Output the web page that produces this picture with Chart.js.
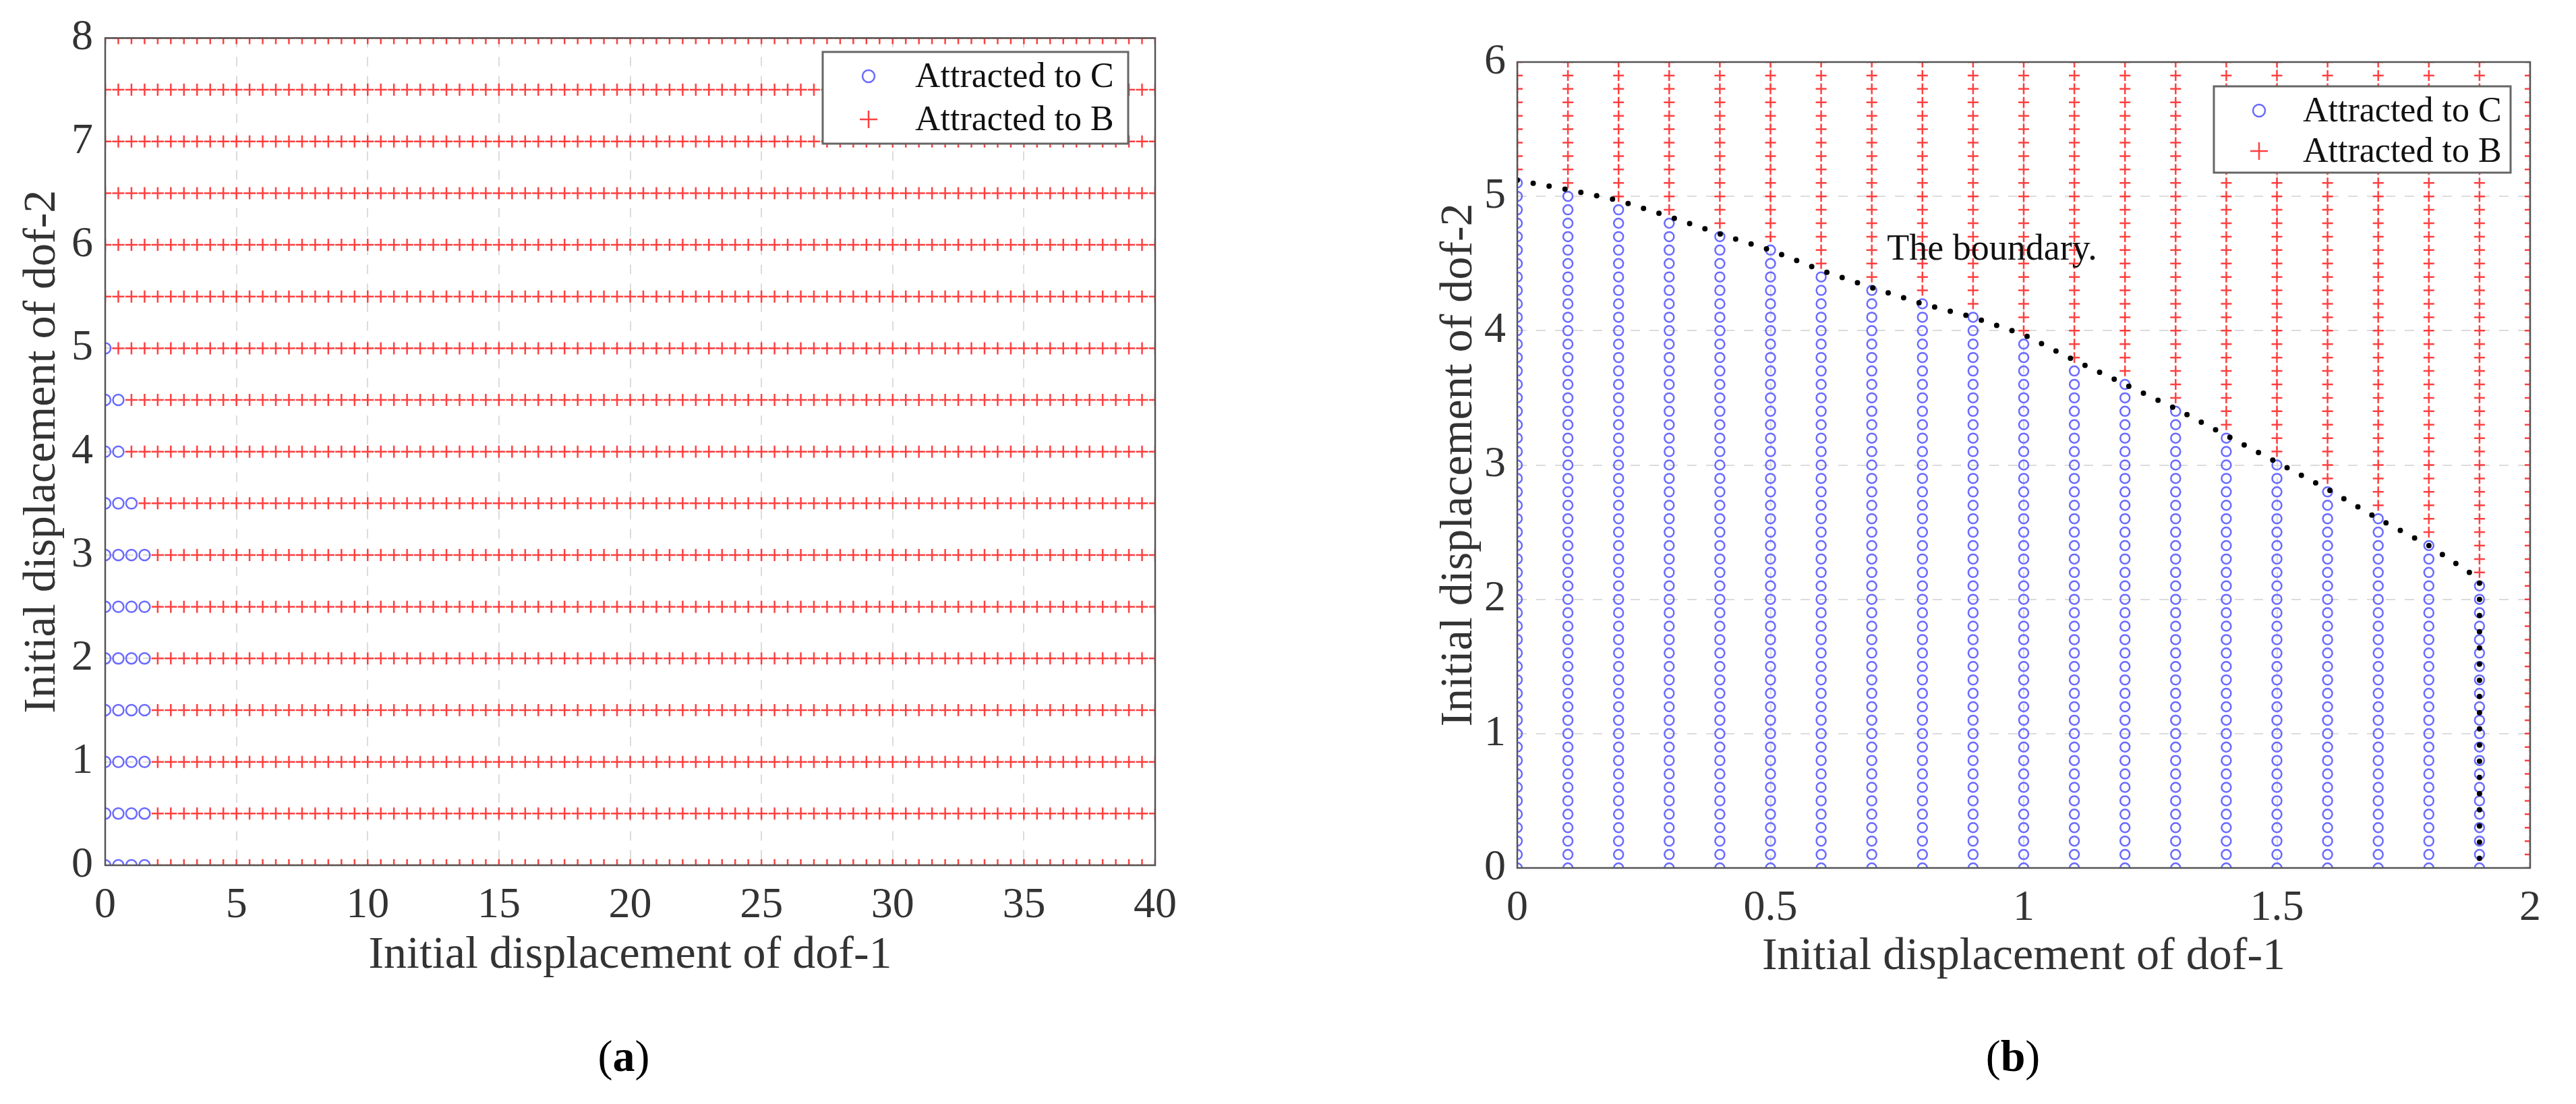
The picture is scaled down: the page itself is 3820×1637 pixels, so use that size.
<!DOCTYPE html>
<html><head><meta charset="utf-8">
<script src="https://cdn.jsdelivr.net/npm/chart.js@4"></script>
<style>
body{margin:0;background:#fff;width:3820px;height:1637px;position:relative;overflow:hidden;font-family:"Liberation Serif","Times New Roman",serif}
canvas{position:absolute;top:0}
.cap{position:absolute;font-family:"Liberation Serif","Times New Roman",serif;font-size:66px;transform:translate(-50%,-50%);color:#000}
</style></head><body>
<canvas id="ca" width="1800" height="1637" style="left:0"></canvas>
<canvas id="cb" width="1820" height="1637" style="left:2000px"></canvas>
<div class="cap" style="left:925px;top:1566px">(<b>a</b>)</div>
<div class="cap" style="left:2985px;top:1566px">(<b>b</b>)</div>
<script>
// ---- Panel (a) data ----
const aRowsY = [0,0.5,1,1.5,2,2.5,3,3.5,4,4.5,5,5.5,6,6.5,7,7.5,8];
const aCircleCount = [4,4,4,4,4,4,4,3,2,2,1,0,0,0,0,0,0]; // circles per row at x = 0,0.5,...
const aXStep = 0.5, aXMax = 40;
const aXTicks = [0,5,10,15,20,25,30,35,40];
const aYTicks = [0,1,2,3,4,5,6,7,8];
// ---- Panel (b) data ----
const bColsX = [0,0.1,0.2,0.3,0.4,0.5,0.6,0.7,0.8,0.9,1.0,1.1,1.2,1.3,1.4,1.5,1.6,1.7,1.8,1.9,2.0];
const bCircleTop = [5.1,5.0,4.9,4.8,4.7,4.6,4.4,4.3,4.2,4.1,3.9,3.7,3.6,3.4,3.2,3.0,2.8,2.6,2.4,2.1,null];
const bYStep = 0.1, bYMax = 6;
const boundaryX = [0,0.1,0.2,0.3,0.4,0.5,0.6,0.7,0.8,0.9,1.0,1.1,1.2,1.3,1.4,1.5,1.6,1.7,1.8,1.9,1.9];
const boundaryY = [5.12,5.05,4.97,4.85,4.72,4.6,4.45,4.32,4.2,4.1,3.97,3.78,3.6,3.42,3.22,3.02,2.82,2.6,2.4,2.15,0.05];
const bXTicks = [0,0.5,1,1.5,2];
const bYTicks = [0,1,2,3,4,5,6];
const labelC = "Attracted to C", labelB = "Attracted to B";
const boundaryText = "The boundary.", boundaryTextPos = [0.73, 4.6];

const r1 = v => Math.round(v*10)/10;
const aC=[], aB=[];
aRowsY.forEach((y,i)=>{
  for(let k=0;k*aXStep<=aXMax+1e-9;k++){
    const x=k*aXStep;
    (k<aCircleCount[i]?aC:aB).push({x,y});
  }
});
const bC=[], bB=[];
bColsX.forEach((x,i)=>{
  const top=bCircleTop[i];
  for(let k=0;k*bYStep<=bYMax+1e-9;k++){
    const y=r1(k*bYStep);
    (top!==null && y<=top+1e-9 ? bC : bB).push({x,y});
  }
});
const boundary = boundaryX.map((x,i)=>({x,y:boundaryY[i]}));

const BLUE='rgba(90,90,255,0.9)', RED='rgba(255,30,30,0.85)';
const SERIF='"Liberation Serif", "Times New Roman", serif';

function boxLegend(opts){
  return {id:'boxlegend',afterDraw(chart){
    const ctx=chart.ctx, a=chart.chartArea;
    ctx.save();
    ctx.strokeStyle='#555';ctx.lineWidth=2.5;
    ctx.strokeRect(a.left,a.top,a.right-a.left,a.bottom-a.top);
    const L=opts.legend;
    ctx.fillStyle='#fff';ctx.fillRect(L.x0,L.y0,L.x1-L.x0,L.y1-L.y0);
    ctx.strokeStyle='#666';ctx.lineWidth=3;ctx.strokeRect(L.x0,L.y0,L.x1-L.x0,L.y1-L.y0);
    ctx.strokeStyle=BLUE;ctx.lineWidth=2.5;
    ctx.beginPath();ctx.arc(L.sx,L.r1,opts.cr,0,Math.PI*2);ctx.stroke();
    ctx.strokeStyle=RED;ctx.beginPath();
    ctx.moveTo(L.sx-opts.pr,L.r2);ctx.lineTo(L.sx+opts.pr,L.r2);
    ctx.moveTo(L.sx,L.r2-opts.pr);ctx.lineTo(L.sx,L.r2+opts.pr);ctx.stroke();
    ctx.fillStyle='#111';ctx.font='52px '+SERIF;ctx.textBaseline='middle';
    ctx.fillText(labelC,L.tx,L.r1+2);ctx.fillText(labelB,L.tx,L.r2+2);
    if(opts.text){
      const xs=chart.scales.x, ys=chart.scales.y;
      ctx.font='54px '+SERIF;ctx.textBaseline='middle';
      ctx.fillText(boundaryText,xs.getPixelForValue(boundaryTextPos[0]),ys.getPixelForValue(boundaryTextPos[1]));
    }
    ctx.restore();
  }};
}

function makeChart(id,cfg){
  const tickFont={family:SERIF,size:64};
  const titleFont={family:SERIF,size:68};
  const grid={color:'#dcdcdc',lineWidth:2,drawTicks:false};
  const border={display:false,dash:[14,14]};
  const fmt=v=>String(v);
  return new Chart(document.getElementById(id),{
    type:'scatter',
    data:{datasets:cfg.datasets},
    options:{
      responsive:false,animation:false,devicePixelRatio:1,
      layout:{padding:{left:0,top:cfg.top,right:cfg.right,bottom:cfg.bottom}},
      plugins:{legend:{display:false},tooltip:{enabled:false}},
      scales:{
        x:{type:'linear',min:cfg.xmin,max:cfg.xmax,
          afterBuildTicks:s=>{s.ticks=cfg.xt.map(v=>({value:v}));},
          afterFit:s=>{s.height=cfg.xh;},
          ticks:{font:tickFont,color:'#333',padding:22,autoSkip:false,maxRotation:0,callback:fmt},
          grid,border,
          title:{display:true,text:'Initial displacement of dof-1',font:titleFont,color:'#333',padding:{top:0,bottom:0}}},
        y:{type:'linear',min:cfg.ymin,max:cfg.ymax,
          afterBuildTicks:s=>{s.ticks=cfg.yt.map(v=>({value:v}));},
          afterFit:s=>{s.width=cfg.yw;},
          ticks:{font:tickFont,color:'#333',padding:cfg.ytp,autoSkip:false,callback:fmt},
          grid,border,
          title:{display:true,text:'Initial displacement of dof-2',font:titleFont,color:'#333',padding:{top:cfg.ytitle,bottom:0}}}
      }
    },
    plugins:[boxLegend(cfg.legend)]
  });
}

makeChart('ca',{
  datasets:[
    {data:aB,pointStyle:'cross',pointRadius:9,borderColor:RED,borderWidth:2.5,backgroundColor:RED},
    {data:aC,pointStyle:'circle',pointRadius:8,borderColor:BLUE,borderWidth:2.5,backgroundColor:'rgba(0,0,0,0)'}
  ],
  xmin:0,xmax:40,ymin:0,ymax:8,xt:aXTicks,yt:aYTicks,
  top:38,right:87,bottom:179,xh:175,yw:156,ytp:18,ytitle:22,
  legend:{cr:9,pr:13,legend:{x0:1220,x1:1673,y0:77,y1:213,sx:1288,r1:113,r2:177,tx:1357}}
});
makeChart('cb',{
  datasets:[
    {data:boundary,showLine:true,pointRadius:0,borderColor:'#000',borderWidth:8,borderCapStyle:'round',borderDash:[0,24],fill:false,order:0},
    {data:bB,pointStyle:'cross',pointRadius:8,borderColor:RED,borderWidth:2.5,backgroundColor:RED,order:2},
    {data:bC,pointStyle:'circle',pointRadius:7,borderColor:BLUE,borderWidth:2.5,backgroundColor:'rgba(0,0,0,0)',order:1}
  ],
  xmin:0,xmax:2,ymin:0,ymax:6,xt:bXTicks,yt:bYTicks,
  top:92,right:68,bottom:177,xh:173,yw:250,ytp:17,ytitle:123,
  legend:{cr:9,pr:13,text:true,legend:{x0:1283,x1:1723,y0:128,y1:256,sx:1350,r1:164,r2:224,tx:1415}}
});
</script></body></html>
